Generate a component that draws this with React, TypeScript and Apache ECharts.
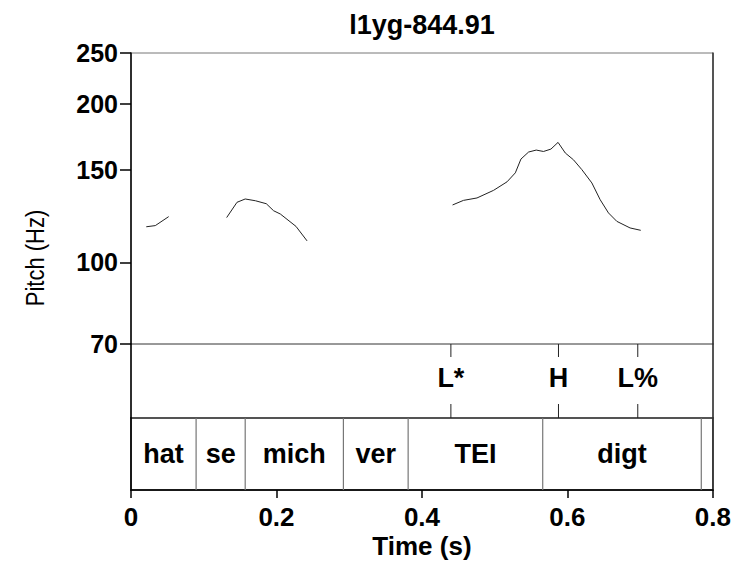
import React, { useEffect, useRef } from "react";
import * as echarts from "echarts";

const FONT = "'Liberation Sans', Arial, Helvetica, sans-serif";

const chartTitle = "l1yg-844.91";
const xAxisName = "Time (s)";
const yAxisName = "Pitch (Hz)";

const xTicks = [0, 0.2, 0.4, 0.6, 0.8];
const yTicks = [70, 100, 150, 200, 250];

// pitch contour, three voiced stretches
const seg1Time = [0.021, 0.0334, 0.0518];
const seg1Pitch = [116.9, 117.5, 122.2];
const seg2Time = [0.1315, 0.1457, 0.157, 0.171, 0.186, 0.196, 0.2053, 0.2268, 0.242];
const seg2Pitch = [121.7, 130.1, 132.0, 131.0, 129.3, 125.4, 123.6, 117.1, 109.9];
const seg3Time = [
  0.442, 0.457, 0.4756, 0.4984, 0.5169, 0.5283, 0.536, 0.5465, 0.557, 0.567, 0.5772,
  0.587, 0.597, 0.6082, 0.6197, 0.6335, 0.6449, 0.6563, 0.6678, 0.686, 0.7007,
];
const seg3Pitch = [
  128.6, 131.2, 132.6, 137.1, 142.3, 148.0, 157.2, 162.1, 163.5, 162.5, 164.2,
  169.1, 161.4, 156.7, 150.1, 141.6, 131.6, 124.2, 119.7, 116.3, 115.1,
];

// tone tier
const toneTimes = [0.4397, 0.5876, 0.6966];
const toneLabels = ["L*", "H", "L%"];

// word tier
const wordStarts = [0, 0.0895, 0.157, 0.292, 0.381, 0.566, 0.784];
const wordEnds = [0.0895, 0.157, 0.292, 0.381, 0.566, 0.784, 0.8];
const wordLabels = ["hat", "se", "mich", "ver", "TEI", "digt", ""];

const X_MAX = 0.8;

export default function App() {
  const ref = useRef<HTMLDivElement>(null);

  useEffect(() => {
    if (!ref.current) return;
    const chart = echarts.init(ref.current, undefined, { renderer: "svg" });
    const logMin = Math.log10(yTicks[0]);
    const logMax = Math.log10(yTicks[yTicks.length - 1]);
    const logTicks = yTicks.map((v) => Math.log10(v));

    const segments = [
      { t: seg1Time, p: seg1Pitch },
      { t: seg2Time, p: seg2Pitch },
      { t: seg3Time, p: seg3Pitch },
    ];

    const hiddenX = (gi: number) => ({
      gridIndex: gi,
      type: "value",
      min: 0,
      max: X_MAX,
      show: false,
    });

    const sideY = (gi: number, pos: "left" | "right", color: string, min: number, max: number) => ({
      gridIndex: gi,
      type: "value",
      position: pos,
      min,
      max,
      axisLine: { show: true, lineStyle: { color, width: 1.5 } },
      axisTick: { show: false },
      axisLabel: { show: false },
      splitLine: { show: false },
    });

    const option: any = {
      animation: false,
      backgroundColor: "#fff",
      grid: [
        { left: 131, top: 53, width: 582, height: 291, show: true, borderColor: "#777", borderWidth: 1 },
        { left: 131, top: 344, width: 582, height: 74, show: true, borderColor: "#777", borderWidth: 1 },
        { left: 131, top: 418, width: 582, height: 72, show: true, borderColor: "#333", borderWidth: 1.5 },
      ],
      xAxis: [
        hiddenX(0),
        hiddenX(1),
        {
          gridIndex: 2,
          type: "value",
          min: 0,
          max: X_MAX,
          interval: 0.2,
          axisLine: { show: true, lineStyle: { color: "#000", width: 1.5 } },
          axisTick: { show: true, length: 8, customValues: xTicks, lineStyle: { color: "#000", width: 1.5 } },
          axisLabel: {
            customValues: xTicks,
            fontSize: 26,
            fontWeight: "bold",
            fontFamily: FONT,
            color: "#000",
            margin: 14,
          },
          splitLine: { show: false },
          name: xAxisName,
          nameLocation: "middle",
          nameGap: 43,
          nameTextStyle: { fontSize: 26, fontWeight: "bold", fontFamily: FONT, color: "#000" },
        },
      ],
      yAxis: [
        {
          gridIndex: 0,
          type: "value",
          min: logMin,
          max: logMax,
          axisLine: { show: true, lineStyle: { color: "#000", width: 1.5 } },
          axisTick: { show: true, length: 11, customValues: logTicks, lineStyle: { color: "#000", width: 1.5 } },
          axisLabel: {
            customValues: logTicks,
            formatter: (v: number) => String(Math.round(Math.pow(10, v))),
            fontSize: 25,
            fontWeight: "bold",
            fontFamily: FONT,
            color: "#000",
            margin: 13,
          },
          splitLine: { show: false },
        },
        sideY(0, "right", "#333", logMin, logMax),
        sideY(1, "left", "#000", 0, 1),
        sideY(1, "right", "#333", 0, 1),
        sideY(2, "left", "#000", 0, 1),
        sideY(2, "right", "#333", 0, 1),
      ],
      graphic: [
        {
          type: "text",
          x: 422,
          y: 25,
          style: {
            text: chartTitle,
            font: `bold 27px ${FONT}`,
            fill: "#000",
            align: "center",
            verticalAlign: "middle",
          },
        },
        {
          type: "text",
          x: 35,
          y: 258,
          rotation: Math.PI / 2,
          scaleY: 1.15,
          style: {
            text: yAxisName,
            font: `22px ${FONT}`,
            fill: "#000",
            align: "center",
            verticalAlign: "middle",
          },
        },
      ],
      series: [
        ...segments.map((s) => ({
          type: "line",
          xAxisIndex: 0,
          yAxisIndex: 0,
          showSymbol: false,
          symbol: "none",
          silent: true,
          lineStyle: { color: "#222", width: 1 },
          data: s.t.map((t, i) => [t, Math.log10(s.p[i])]),
        })),
        {
          type: "custom",
          xAxisIndex: 1,
          yAxisIndex: 2,
          silent: true,
          data: toneTimes.map((t, i) => [t, i]),
          renderItem: (params: any, api: any) => {
            const x = api.coord([api.value(0), 0])[0];
            const cs = params.coordSys;
            const label = toneLabels[api.value(1)];
            const ls = { stroke: "#222", lineWidth: 1 };
            return {
              type: "group",
              children: [
                { type: "line", shape: { x1: x, y1: cs.y, x2: x, y2: cs.y + 13 }, style: ls },
                { type: "line", shape: { x1: x, y1: cs.y + cs.height - 14, x2: x, y2: cs.y + cs.height }, style: ls },
                {
                  type: "text",
                  x,
                  y: cs.y + cs.height / 2 - 3,
                  style: {
                    text: label,
                    font: `bold 27px ${FONT}`,
                    fill: "#000",
                    align: "center",
                    verticalAlign: "middle",
                  },
                },
              ],
            };
          },
        },
        {
          type: "custom",
          xAxisIndex: 2,
          yAxisIndex: 4,
          silent: true,
          data: wordStarts.map((s, i) => [s, wordEnds[i], i]),
          renderItem: (params: any, api: any) => {
            const x0 = api.coord([api.value(0), 0])[0];
            const end = api.value(1);
            const x1 = api.coord([end, 0])[0];
            const cs = params.coordSys;
            const label = wordLabels[api.value(2)];
            const children: any[] = [];
            if (end < X_MAX) {
              children.push({
                type: "line",
                shape: { x1, y1: cs.y, x2: x1, y2: cs.y + cs.height },
                style: { stroke: "#777", lineWidth: 1.2 },
              });
            }
            if (label) {
              children.push({
                type: "text",
                x: (x0 + x1) / 2,
                y: cs.y + cs.height / 2,
                style: {
                  text: label,
                  font: `bold 27px ${FONT}`,
                  fill: "#000",
                  align: "center",
                  verticalAlign: "middle",
                },
              });
            }
            return { type: "group", children };
          },
        },
      ],
    };

    chart.setOption(option);
    return () => chart.dispose();
  }, []);

  return (
    <div
      ref={ref}
      style={{ position: "fixed", left: 0, top: 0, width: 734, height: 567, background: "#fff" }}
    />
  );
}
